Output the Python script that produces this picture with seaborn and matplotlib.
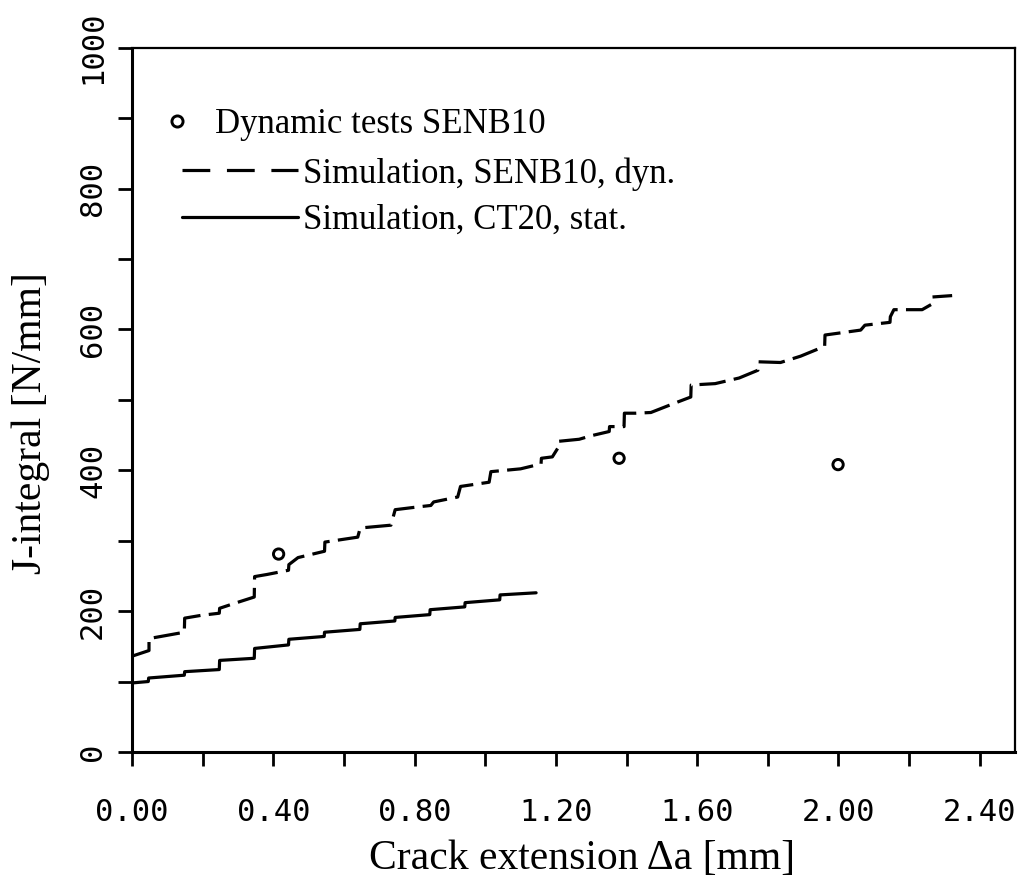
import numpy as np
import pandas as pd
import matplotlib
matplotlib.use("Agg")
import matplotlib.pyplot as plt
from matplotlib.lines import Line2D
import seaborn as sns

# ---- data ----
# dynamic tests (circles)
test_da = [0.415, 1.379, 1.999]
test_j = [281, 417, 408]

# simulation SENB10, dynamic (dashed, stepwise)
senb_da = [0.000, 0.048, 0.048, 0.148, 0.149, 0.196, 0.247, 0.248, 0.290, 0.346,
           0.347, 0.382, 0.443, 0.444, 0.470, 0.545, 0.546, 0.639, 0.646, 0.733,
           0.745, 0.810, 0.846, 0.854, 0.922, 0.930, 1.011, 1.016, 1.100, 1.158,
           1.159, 1.190, 1.205, 1.206, 1.266, 1.300, 1.351, 1.352, 1.393, 1.394,
           1.426, 1.469, 1.535, 1.582, 1.583, 1.651, 1.719, 1.772, 1.773, 1.836,
           1.893, 1.961, 1.962, 2.063, 2.075, 2.146, 2.147, 2.157, 2.237, 2.265,
           2.266, 2.322]
senb_j = [136, 144, 161, 170, 190, 194, 197, 204, 211, 220,
          249, 252, 258, 266, 276, 285, 298, 305, 318, 322,
          344, 348, 350, 355, 362, 377, 383, 398, 402, 409,
          417, 419, 431, 441, 444, 449, 455, 462, 462, 481,
          481, 482, 495, 504, 521, 523, 531, 542, 554, 553,
          562, 576, 592, 599, 606, 610, 618, 628, 628, 636,
          646, 648]

# simulation CT20, static (solid, stepwise)
ct_da = [0.000, 0.046, 0.047, 0.148, 0.149, 0.247, 0.248, 0.346, 0.347, 0.443,
         0.444, 0.544, 0.545, 0.645, 0.646, 0.744, 0.745, 0.843, 0.844, 0.942,
         0.943, 1.041, 1.042, 1.144]
ct_j = [98, 100, 105, 109, 114, 117, 130, 133, 147, 152,
        160, 164, 170, 174, 182, 186, 191, 195, 202, 206,
        212, 216, 223, 226]

x_ticks = [0.0, 0.2, 0.4, 0.6, 0.8, 1.0, 1.2, 1.4, 1.6, 1.8, 2.0, 2.2, 2.4]
y_ticks = [0, 100, 200, 300, 400, 500, 600, 700, 800, 900, 1000]

legend_labels = ["Dynamic tests SENB10", "Simulation, SENB10, dyn.",
                 "Simulation, CT20, stat."]

# ---- style ----
sns.set_style("ticks")
plt.rcParams['font.family'] = ['Liberation Serif', 'DejaVu Serif']
plt.rcParams['text.color'] = 'black'
plt.rcParams['axes.labelcolor'] = 'black'
plt.rcParams['lines.scale_dashes'] = False
mono = ['DejaVu Sans Mono']

fig = plt.figure(figsize=(10.26, 8.88), dpi=100)
ax = fig.add_axes([0.1287, 0.1532, 0.8606, 0.7931])

dash_pat = (0, (19, 6))

df_senb = pd.DataFrame({"da": senb_da, "J": senb_j})
df_ct = pd.DataFrame({"da": ct_da, "J": ct_j})
df_test = pd.DataFrame({"da": test_da, "J": test_j})

sns.lineplot(data=df_senb, x="da", y="J", sort=False, estimator=None, ax=ax,
             color="black", linewidth=2.3, linestyle=dash_pat)
sns.lineplot(data=df_ct, x="da", y="J", sort=False, estimator=None, ax=ax,
             color="black", linewidth=2.3)
sns.scatterplot(data=df_test, x="da", y="J", ax=ax, marker="o", s=55,
                facecolor="none", edgecolor="black", linewidth=2.1, zorder=5)

ax.set_xlim(0, 2.5)
ax.set_ylim(0, 1000)

ax.set_xticks(x_ticks)
ax.set_xticklabels([f"{v:.2f}" if round(v / 0.4, 6) % 1 == 0 else "" for v in x_ticks],
                   family=mono, fontsize=22)
ax.set_yticks(y_ticks)
ax.set_yticklabels([str(v) if v % 200 == 0 else "" for v in y_ticks],
                   family=mono, fontsize=22, rotation=90, va="center")
ax.tick_params(axis="x", direction="out", length=10, width=2, pad=23, colors="black")
ax.tick_params(axis="y", direction="out", length=10, width=2, pad=8, colors="black")

for side, sp in ax.spines.items():
    sp.set_visible(True)
    sp.set_color("black")
    sp.set_linewidth(2.2 if side in ("left", "bottom") else 1.6)

ax.set_xlabel("Crack extension \u0394a [mm]", fontsize=30)
ax.set_ylabel("J-integral [N/mm]", fontsize=30)
ax.xaxis.set_label_coords(0.51, -0.125)
ax.yaxis.set_label_coords(-0.093, 0.467)

# legend: marker row and line rows have different handle widths
h_marker = [Line2D([], [], linestyle="none", marker="o", markersize=8,
                   markerfacecolor="none", markeredgecolor="black", markeredgewidth=2.1)]
leg1 = ax.legend(h_marker, legend_labels[:1], loc="upper left",
                 bbox_to_anchor=(0.020, 0.9335), frameon=False, fontsize=25,
                 handlelength=0.8, handletextpad=0.67, borderaxespad=0)
ax.add_artist(leg1)
h_lines = [Line2D([], [], color="black", linewidth=2.3, linestyle=(0, (20, 12))),
           Line2D([], [], color="black", linewidth=2.3)]
ax.legend(h_lines, legend_labels[1:], loc="upper left",
          bbox_to_anchor=(0.041, 0.8645), frameon=False, fontsize=25,
          handlelength=3.34, handletextpad=0.14, labelspacing=0.39, borderaxespad=0)

fig.savefig("out.png", dpi=100)
